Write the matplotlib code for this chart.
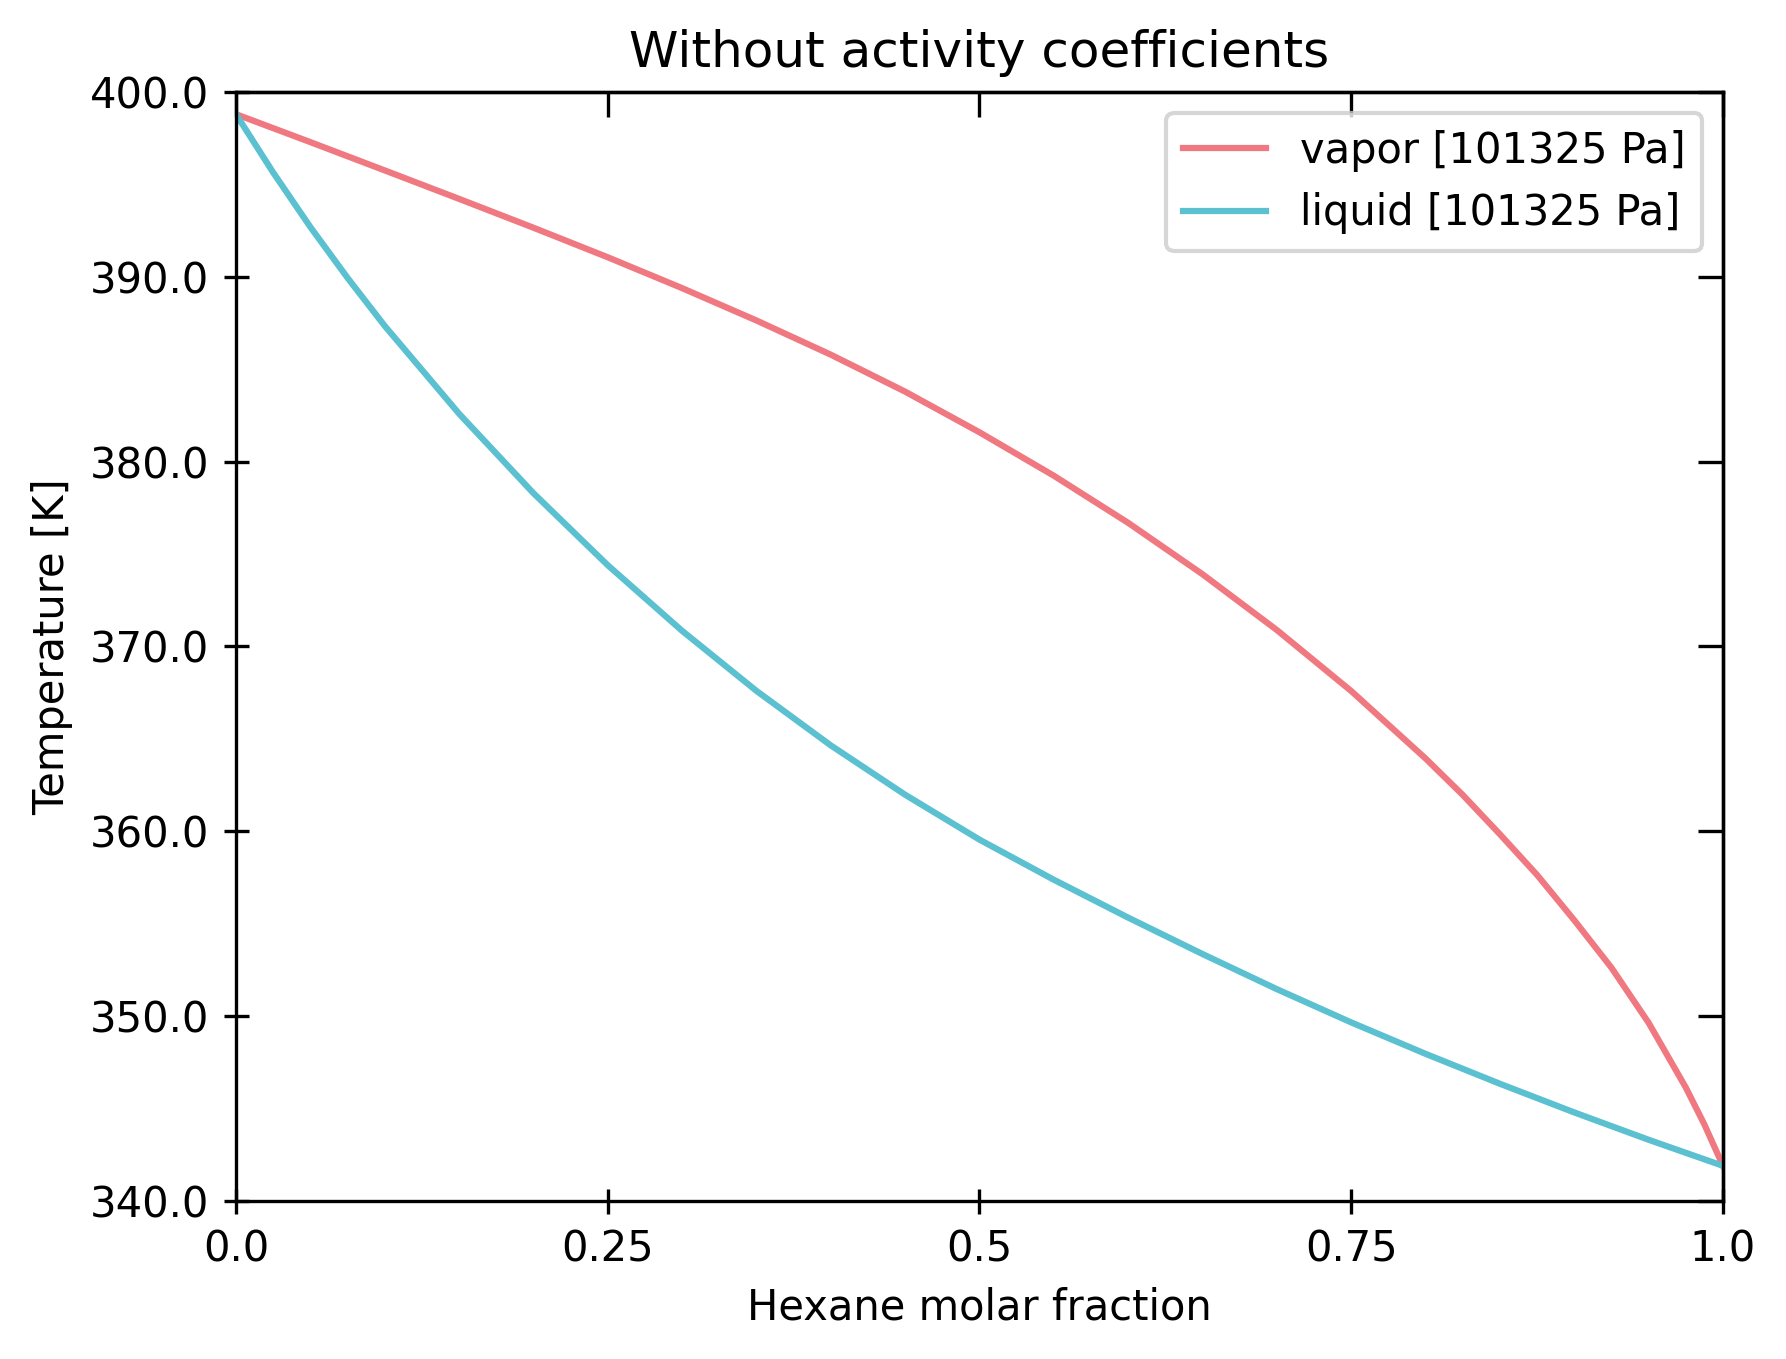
import matplotlib
matplotlib.use('Agg')
import matplotlib.pyplot as plt

# hexane molar fraction vs temperature
vapor_x = [0.0, 0.05, 0.1, 0.15, 0.2, 0.25, 0.3, 0.35, 0.4, 0.45, 0.5, 0.55, 0.6,
           0.65, 0.7, 0.75, 0.8, 0.825, 0.85, 0.875, 0.9, 0.925, 0.95, 0.975, 0.9875, 1.0]
vapor_T = [398.8, 397.29, 395.76, 394.22, 392.66, 391.06, 389.39, 387.64, 385.79, 383.79,
           381.59, 379.24, 376.69, 373.91, 370.89, 367.59, 363.94, 361.97, 359.84, 357.64,
           355.19, 352.62, 349.64, 346.14, 344.14, 341.9]

liquid_x = [0.0, 0.025, 0.05, 0.075, 0.1, 0.15, 0.2, 0.25, 0.3, 0.35, 0.4, 0.45, 0.5, 0.55,
            0.6, 0.65, 0.7, 0.75, 0.8, 0.85, 0.9, 0.95, 1.0]
liquid_T = [398.8, 395.65, 392.7, 389.95, 387.35, 382.6, 378.3, 374.4, 370.85, 367.6, 364.65,
            361.98, 359.55, 357.38, 355.33, 353.36, 351.46, 349.66, 347.96, 346.34,
            344.79, 343.31, 341.9]

x_ticks = [0.0, 0.25, 0.5, 0.75, 1.0]
x_labels = ['0.0', '0.25', '0.5', '0.75', '1.0']
y_ticks = [340, 350, 360, 370, 380, 390, 400]

fig = plt.figure(figsize=(1786 / 300, 1359 / 300), dpi=300)
ax = fig.add_axes([0.1321, 0.1163, 0.8326, 0.816])

ax.plot(vapor_x, vapor_T, color='#f07880', lw=1.5, label='vapor [101325 Pa]')
ax.plot(liquid_x, liquid_T, color='#5bc0d0', lw=1.5, label='liquid [101325 Pa]')

ax.set_xlim(0, 1)
ax.set_ylim(340, 400)
ax.set_xticks(x_ticks)
ax.set_xticklabels(x_labels)
ax.set_yticks(y_ticks)
ax.set_yticklabels(['%.1f' % t for t in y_ticks])
ax.tick_params(direction='inout', length=6)

# inward ticks on the top and right sides
top = ax.secondary_xaxis('top')
top.set_xticks(x_ticks)
top.tick_params(direction='in', length=6, labeltop=False)
right = ax.secondary_yaxis('right')
right.set_yticks(y_ticks)
right.tick_params(direction='in', length=6, labelright=False)

ax.set_xlabel('Hexane molar fraction')
ax.set_ylabel('Temperature [K]')
ax.set_title('Without activity coefficients')
ax.legend(loc='upper right')

plt.savefig('out.png', dpi=300)
plt.close('all')
